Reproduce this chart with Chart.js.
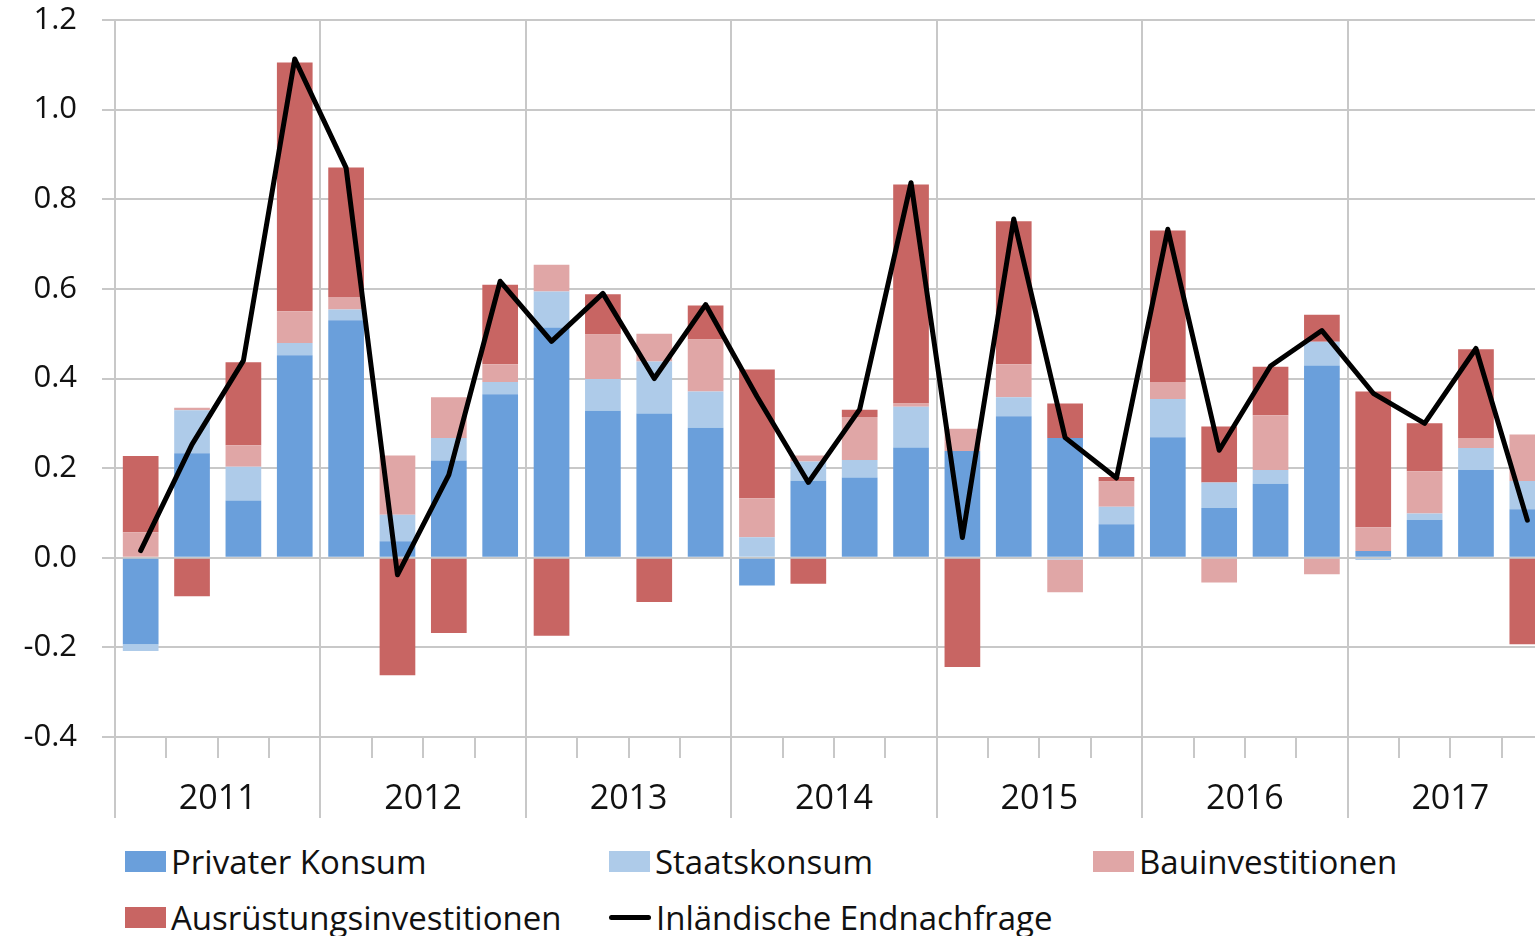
<!DOCTYPE html>
<html><head><meta charset="utf-8">
<script src="https://cdn.jsdelivr.net/npm/chart.js@4.4.1/dist/chart.umd.min.js"></script>
<style>
html,body{margin:0;padding:0;background:#fff;overflow:hidden;width:1535px;height:936px;}
#wrap{position:absolute;left:0;top:0;width:1553px;height:818px;}
#legend{position:absolute;left:125px;top:833px;display:grid;grid-template-columns:484px 484px 484px;grid-auto-rows:56px;font-family:"Open Sans";font-size:33px;color:#111;}
.item{display:flex;align-items:center;white-space:nowrap;}
.box{width:41px;height:21px;margin-right:5px;flex:none;}
.line{width:42px;height:5px;border-radius:3px;margin-right:5px;flex:none;}
</style></head><body>
<div id="wrap"><canvas id="c"></canvas></div>
<div id="legend"></div>
<script>
const quarters = ['2011 Q1','2011 Q2','2011 Q3','2011 Q4','2012 Q1','2012 Q2','2012 Q3','2012 Q4',
  '2013 Q1','2013 Q2','2013 Q3','2013 Q4','2014 Q1','2014 Q2','2014 Q3','2014 Q4',
  '2015 Q1','2015 Q2','2015 Q3','2015 Q4','2016 Q1','2016 Q2','2016 Q3','2016 Q4',
  '2017 Q1','2017 Q2','2017 Q3','2017 Q4'];
const years = ['2011','2012','2013','2014','2015','2016','2017'];
const yTickLabels = ['-0.4','-0.2','0.0','0.2','0.4','0.6','0.8','1.0','1.2'];

const privaterKonsum = [-0.193,0.233,0.128,0.452, 0.530,0.037,0.217,0.365, 0.514,0.328,0.322,0.290,
  -0.062,0.172,0.179,0.246, 0.238,0.316,0.267,0.075, 0.269,0.111,0.165,0.429, 0.015,0.084,0.196,0.108];
const staatskonsum = [-0.015,0.096,0.075,0.027, 0.024,0.059,0.050,0.027, 0.080,0.071,0.116,0.081,
  0.046,0.043,0.039,0.091, 0.000,0.042,-0.004,0.039, 0.085,0.057,0.031,0.053, -0.005,0.015,0.049,0.063];
const bauinvestitionen = [0.057,0.006,0.048,0.071, 0.028,0.132,0.091,0.040, 0.060,0.099,0.062,0.116,
  0.087,0.013,0.096,0.007, 0.050,0.074,-0.073,0.056, 0.038,-0.055,0.122,-0.037, 0.053,0.094,0.022,0.104];
const ausruestungsinvestitionen = [0.170,-0.086,0.185,0.555, 0.289,-0.262,-0.168,0.177, -0.174,0.090,-0.099,0.076,
  0.287,-0.058,0.016,0.489, -0.244,0.319,0.077,0.010, 0.338,0.125,0.108,0.060, 0.303,0.107,0.198,-0.193];
const endnachfrage = [0.016,0.253,0.440,1.113, 0.870,-0.038,0.185,0.617, 0.483,0.590,0.400,0.565,
  0.360,0.168,0.331,0.837, 0.045,0.756,0.268,0.178, 0.733,0.240,0.428,0.507, 0.367,0.300,0.467,0.084];

const gridColor = '#c8c8c8';
const textColor = '#111';
const fontFamily = 'Open Sans';

const chart = new Chart(document.getElementById('c'), {
  type: 'bar',
  data: {
    labels: quarters,
    datasets: [
      {label:'Privater Konsum', data: privaterKonsum, backgroundColor:'#6A9FDB', order:1, stack:'s', xAxisID:'x', yAxisID:'y'},
      {label:'Staatskonsum', data: staatskonsum, backgroundColor:'#AECBE9', order:1, stack:'s', xAxisID:'x', yAxisID:'y'},
      {label:'Bauinvestitionen', data: bauinvestitionen, backgroundColor:'#E0A6A6', order:1, stack:'s', xAxisID:'x', yAxisID:'y'},
      {label:'Ausrüstungsinvestitionen', data: ausruestungsinvestitionen, backgroundColor:'#C86563', order:1, stack:'s', xAxisID:'x', yAxisID:'y'},
      {type:'line', label:'Inländische Endnachfrage', data: endnachfrage, borderColor:'#000', backgroundColor:'#000',
       borderWidth:5, pointRadius:0, pointHoverRadius:0, tension:0, order:0, stack:'line', fill:false,
       borderJoinStyle:'round', borderCapStyle:'round', xAxisID:'x', yAxisID:'y'}
    ]
  },
  options: {
    responsive:true, maintainAspectRatio:false, animation:false, devicePixelRatio:1,
    layout:{padding:{top:20,left:0,right:0,bottom:0}},
    plugins:{legend:{display:false}, tooltip:{enabled:false}},
    datasets:{bar:{categoryPercentage:1, barPercentage:0.695}},
    scales:{
      x:{type:'category', position:'bottom', stacked:true, offset:true, weight:0,
        grid:{offset:true, color:(c)=> (c.index%4===0 ? gridColor : 'rgba(0,0,0,0)'), lineWidth:2,
              drawTicks:true, tickLength:21, tickColor:gridColor, tickWidth:2},
        border:{display:true, color:gridColor, width:2},
        ticks:{display:false, autoSkip:false},
        afterFit:(s)=>{s.height=21;}},
      xYear:{type:'category', position:'bottom', labels: years, offset:true, weight:1,
        grid:{offset:true, drawOnChartArea:false, drawTicks:true, tickLength:60, color:gridColor, tickColor:gridColor, lineWidth:2, tickWidth:2},
        border:{display:false},
        ticks:{font:{family:fontFamily, size:34}, color:textColor, padding:-39, autoSkip:false, maxRotation:0},
        afterFit:(s)=>{s.height=60;}},
      y:{stacked:true, min:-0.4, max:1.2,
        ticks:{stepSize:0.2, font:{family:fontFamily, size:31}, color:textColor, padding:25,
               callback:(v)=>{ const i = Math.round((v+0.4)/0.2); return yTickLabels[i] ?? ''; }},
        grid:{color:gridColor, lineWidth:2, tickLength:13, tickColor:gridColor, tickWidth:2},
        border:{display:true, color:gridColor, width:2},
        afterFit:(s)=>{s.width=115; s.paddingTop=0; s.paddingBottom=0;}}
    }
  }
});

// HTML legend built from the chart's datasets
const leg = document.getElementById('legend');
chart.data.datasets.forEach(ds => {
  const it = document.createElement('div'); it.className='item';
  const sw = document.createElement('span');
  if (ds.type === 'line') { sw.className='line'; sw.style.background = ds.borderColor; }
  else { sw.className='box'; sw.style.background = ds.backgroundColor; }
  const tx = document.createElement('span'); tx.textContent = ds.label;
  it.appendChild(sw); it.appendChild(tx); leg.appendChild(it);
});
</script>
</body></html>
